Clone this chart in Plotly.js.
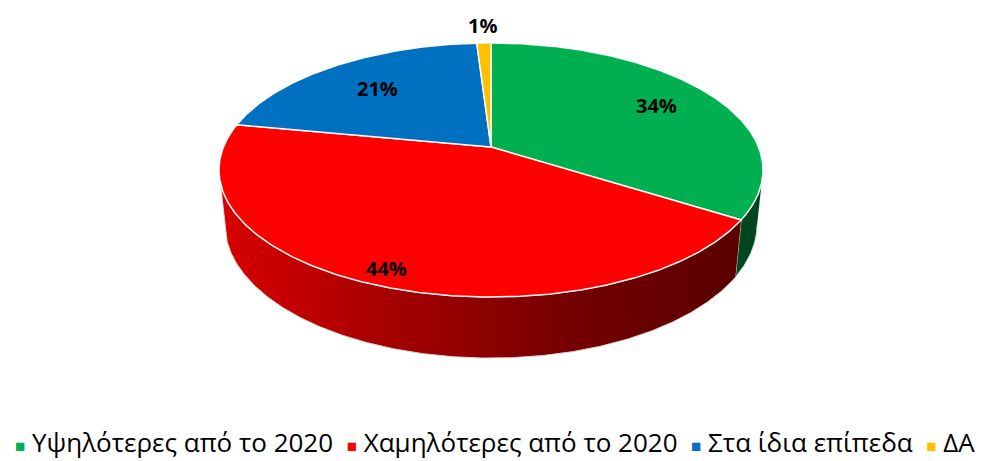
<!DOCTYPE html>
<html>
<head>
<meta charset="utf-8">
<script src="https://cdn.plot.ly/plotly-3.0.1.min.js"></script>
<style>html,body{margin:0;padding:0;background:#fff;}#chart{width:981px;height:461px;}</style>
</head>
<body>
<div id="chart"></div>
<script>
// ---- data ----
const categories = ['Υψηλότερες από το 2020', 'Χαμηλότερες από το 2020', 'Στα ίδια επίπεδα', 'ΔΑ'];
const values = [34, 44, 21, 1];
const valueLabels = ['34%', '44%', '21%', '1%'];

// ---- styles ----
const topColors = ['#00B050', '#FF0000', '#0070C0', '#FFC000'];
const sideColors = ['#00461E', '#A00000', '#003A66', '#8A6A00'];
const labelRadius = [0.75, 0.9, 0.7, 1.2];

// ---- 3D perspective model (pixel space) ----
const CX = 491, CY = 147, F = 1312, L = 4.904;
const PHI = 27.34 * Math.PI / 180, SP = Math.sin(PHI), CP = Math.cos(PHI);
const H = 0.2293;
function proj(thetaDeg, r, z) {
  const t = thetaDeg * Math.PI / 180;
  const x = r * Math.sin(t), d = r * Math.cos(t);
  const depth = L + d * CP - z * SP;
  const up = d * SP + z * CP;
  return [CX + F * x / depth, CY - F * up / depth];
}
function arc(a0, a1, r, z) {
  const pts = [];
  const n = Math.max(2, Math.ceil(Math.abs(a1 - a0) / 0.5));
  for (let k = 0; k <= n; k++) pts.push(proj(a0 + (a1 - a0) * k / n, r, z));
  return pts;
}

const total = values.reduce((a, b) => a + b, 0);
const starts = [], ends = [];
let acc = 0;
values.forEach(v => { starts.push(acc / total * 360); acc += v; ends.push(acc / total * 360); });

const silR = Math.acos(-CP / L) * 180 / Math.PI;   // right silhouette angle
const silL = 360 - silR;                           // left silhouette angle

const traces = [];
// sides (front visible part)
values.forEach((v, i) => {
  const s0 = Math.max(starts[i], silR), s1 = Math.min(ends[i], silL);
  if (s1 <= s0) return;
  const pts = arc(s0, s1, 1, 0).concat(arc(s1, s0, 1, -H));
  const tr = {
    type: 'scatter', mode: 'lines', fill: 'toself',
    x: pts.map(p => p[0]), y: pts.map(p => p[1]),
    line: {color: '#d4d4d4', width: 1},
    fillcolor: sideColors[i], hoverinfo: 'skip', showlegend: false
  };
  if (i === 1) {
    tr.fillgradient = {type: 'horizontal',
      colorscale: [[0, '#D80000'], [0.35, '#A20000'], [0.7, '#720000'], [1, '#5A0000']]};
  }
  traces.push(tr);
});
// top faces
values.forEach((v, i) => {
  const pts = [proj(0, 0, 0)].concat(arc(starts[i], ends[i], 1, 0));
  pts.push(proj(0, 0, 0));
  traces.push({
    type: 'scatter', mode: 'lines', fill: 'toself',
    x: pts.map(p => p[0]), y: pts.map(p => p[1]),
    line: {color: 'rgba(255,255,255,0.95)', width: 1.5},
    fillcolor: topColors[i], hoverinfo: 'skip', showlegend: false
  });
});

const annotations = values.map((v, i) => {
  const mid = (starts[i] + ends[i]) / 2;
  const p = proj(mid, labelRadius[i], 0);
  return {x: p[0], y: p[1], xref: 'x', yref: 'y', text: valueLabels[i], showarrow: false,
    xanchor: 'center', yanchor: 'middle',
    font: {family: 'Open Sans, Liberation Sans, sans-serif', size: 20, color: '#000', weight: 'bold'}};
});
// legend row
const legendText = categories.map((c, i) =>
  '<span style="color:' + topColors[i] + ';font-size:17px">■</span> ' + c).join('  ');
annotations.push({x: 495, y: 442, xref: 'x', yref: 'y', text: legendText, showarrow: false,
  xanchor: 'center', yanchor: 'middle', borderpad: 0,
  font: {family: 'Open Sans, Noto Sans, sans-serif', size: 26, color: '#000'}});

const layout = {
  width: 981, height: 461,
  margin: {l: 0, r: 0, t: 0, b: 0},
  paper_bgcolor: '#fff', plot_bgcolor: '#fff',
  xaxis: {range: [0, 981], visible: false, fixedrange: true},
  yaxis: {range: [461, 0], visible: false, fixedrange: true},
  showlegend: false,
  annotations: annotations
};
Plotly.newPlot('chart', traces, layout, {staticPlot: true, displayModeBar: false});
</script>
</body>
</html>
